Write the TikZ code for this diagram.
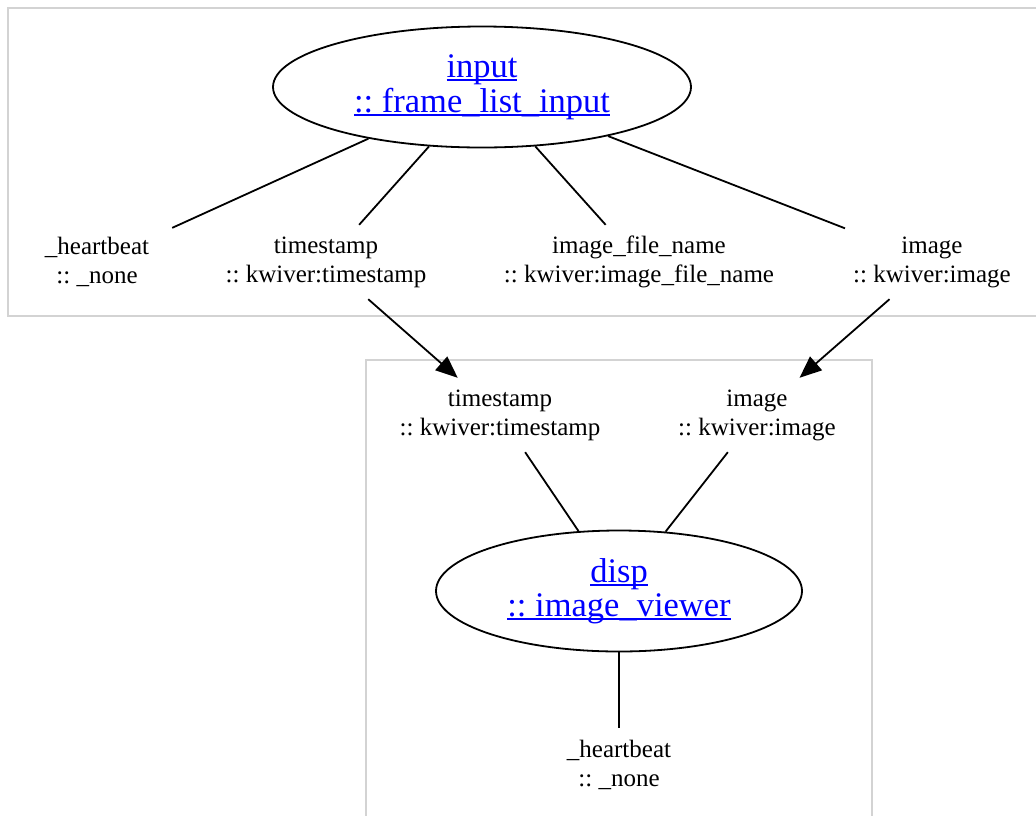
\documentclass[tikz,border=0pt]{standalone}
\usepackage{fontspec}
\setmainfont{Liberation Serif}
\usepackage{xcolor}
\usetikzlibrary{shapes.geometric,arrows.meta}
\definecolor{clustergray}{HTML}{D3D3D3}
\newcommand{\ulink}[1]{\setbox0\hbox{#1}\rlap{\rule[-3.5pt]{\wd0}{1.8pt}}\box0}
\frenchspacing

\begin{document}
\begin{tikzpicture}[x=1pt,y=-1pt,
        cluster/.style={draw=clustergray,line width=1.8pt},
        proc/.style={ellipse,draw,line width=1.8pt,inner sep=0pt,text=blue,align=center,
            font=\fontsize{34.5}{34.5}\selectfont},
        port/.style={rectangle,align=center,minimum width=150pt,minimum height=74pt,
            inner xsep=8pt,font=\fontsize{25}{29}\selectfont},
        conn/.style={line width=1.8pt},
        flow/.style={conn,-{Triangle[length=22pt,width=18pt]}}]
        \useasboundingbox (0,0) rectangle (1036,815);
        \draw[cluster] (8,8) rectangle (1046,316);
        \draw[cluster] (366,360) rectangle (872,826);
        \node[proc,minimum width=418pt,minimum height=121pt] (input) at (482,87)
            {\ulink{input}\\\ulink{:: frame\_list\_input}};
        \node[port] (inhb) at (97,262) {\_heartbeat\\:: \_none};
        \node[port] (ints) at (326,262) {timestamp\\:: kwiver:timestamp};
        \node[port] (infn) at (639,262) {image\_file\_name\\:: kwiver:image\_file\_name};
        \node[port] (inimg) at (932,262) {image\\:: kwiver:image};
        \node[port] (dispts) at (500,415) {timestamp\\:: kwiver:timestamp};
        \node[port] (dispimg) at (757,415) {image\\:: kwiver:image};
        \node[proc,minimum width=366pt,minimum height=121pt] (disp) at (619,591)
            {\ulink{disp}\\\ulink{:: image\_viewer}};
        \node[port] (disphb) at (619,765) {\_heartbeat\\:: \_none};
        \draw[conn] (input)--(inhb);
        \draw[conn] (input)--(ints);
        \draw[conn] (input)--(infn);
        \draw[conn] (input)--(inimg);
        \draw[flow] (ints)--(dispts);
        \draw[flow] (inimg)--(dispimg);
        \draw[conn] (dispts)--(disp);
        \draw[conn] (dispimg)--(disp);
        \draw[conn] (disp)--(disphb);
\end{tikzpicture}
\end{document}
